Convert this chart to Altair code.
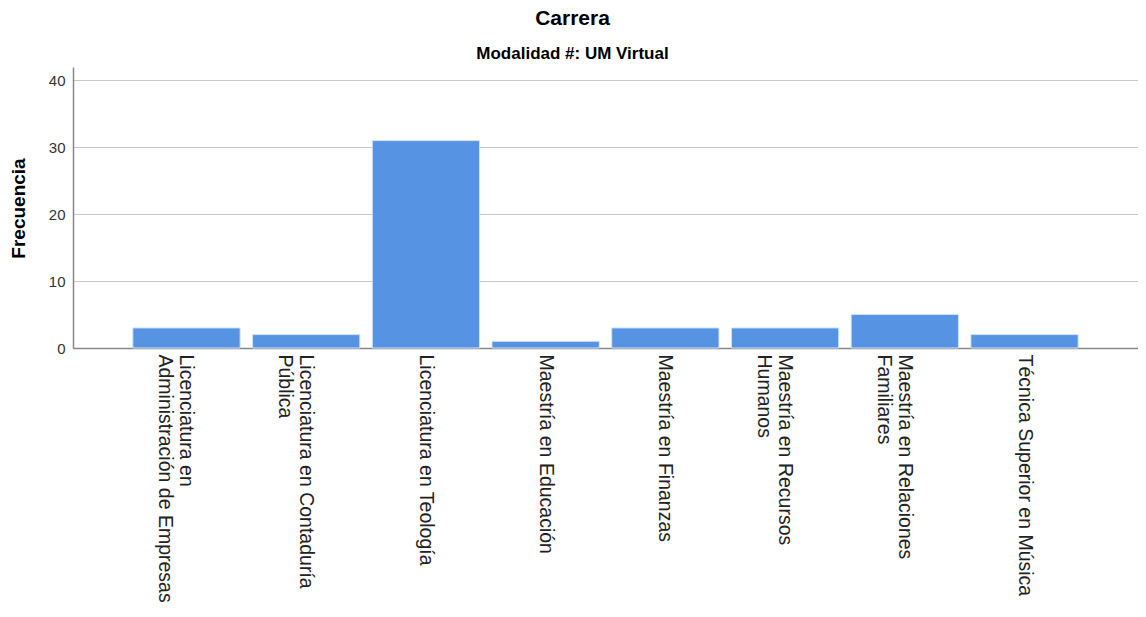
import altair as alt
import pandas as pd

carreras = [
    "Licenciatura en|Administración de Empresas",
    "Licenciatura en Contaduría|Pública",
    "Licenciatura en Teología",
    "Maestría en Educación",
    "Maestría en Finanzas",
    "Maestría en Recursos|Humanos",
    "Maestría en Relaciones|Familiares",
    "Técnica Superior en Música",
]
frecuencias = [3, 2, 31, 1, 3, 3, 5, 2]
y_ticks = [0, 10, 20, 30, 40]

df = pd.DataFrame({"carrera": carreras, "frecuencia": frecuencias})

FONT = "Liberation Sans"

chart = (
    alt.Chart(df)
    .mark_bar(color="#5694E3", stroke="#d2e2f7", strokeWidth=1)
    .encode(
        x=alt.X(
            "carrera:N",
            sort=carreras,
            scale=alt.Scale(paddingInner=0.104, paddingOuter=0.5),
            axis=alt.Axis(
                title=None,
                labelAngle=90,
                labelAlign="left",
                labelBaseline="middle",
                labelExpr="split(datum.label, '|')",
                labelFontSize=19.5,
                labelFont=FONT,
                labelColor="#222222",
                labelPadding=6,
                labelLineHeight=21,
                labelLimit=0,
                labelOverlap=False,
                ticks=False,
                grid=False,
                domainColor="#888888",
                domainWidth=1.5,
            ),
        ),
        y=alt.Y(
            "frecuencia:Q",
            scale=alt.Scale(domain=[0, 42], nice=False),
            axis=alt.Axis(
                values=y_ticks,
                title="Frecuencia",
                titleFont=FONT,
                titleFontSize=19,
                titleFontWeight="bold",
                titleColor="#000000",
                titleAngle=-90,
                titleX=-55,
                titleY=141,
                titleAlign="center",
                titleBaseline="middle",
                labelFont=FONT,
                labelFontSize=15,
                labelColor="#333333",
                labelPadding=8,
                ticks=False,
                grid=True,
                gridColor="#c8c8c8",
                gridWidth=1,
                domainColor="#888888",
                domainWidth=1.5,
            ),
        ),
    )
    .properties(
        width=1065,
        height=281,
        autosize=alt.AutoSizeParams(type="none"),
        padding={"left": 65, "top": 59, "right": 0, "bottom": 258},
        title=alt.TitleParams(
            text="Carrera",
            subtitle="Modalidad #: UM Virtual",
            font=FONT,
            subtitleFont=FONT,
            fontSize=21,
            subtitleFontSize=17,
            fontWeight="bold",
            subtitleFontWeight="bold",
            color="#000000",
            subtitleColor="#000000",
            anchor="middle",
            dx=-33,
            offset=5,
            subtitlePadding=17,
        ),
    )
    .configure_view(strokeWidth=0)
)

chart.save("out.html", embed_options={"renderer": "svg", "actions": False})
